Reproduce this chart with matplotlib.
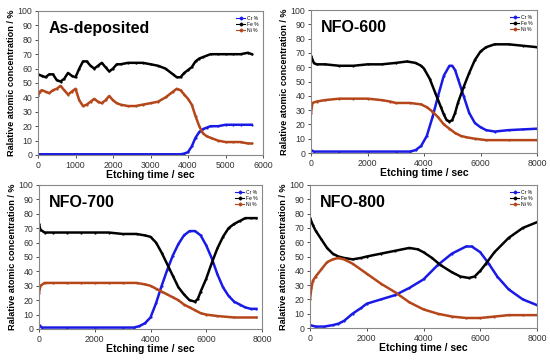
import matplotlib
matplotlib.use("Agg")
import matplotlib.pyplot as plt
from matplotlib.lines import Line2D

plt.rcParams['font.family'] = ['Liberation Sans', 'DejaVu Sans']

# ---------------- data ----------------
titles = ["As-deposited", "NFO-600", "NFO-700", "NFO-800"]
series_names = ["Cr %", "Fe %", "Ni %"]
xmax = [6000, 8000, 8000, 8000]
xticks_list = [[0, 1000, 2000, 3000, 4000, 5000, 6000],
               [0, 2000, 4000, 6000, 8000],
               [0, 2000, 4000, 6000, 8000],
               [0, 2000, 4000, 6000, 8000]]

# As-deposited
t1_fe = [0, 100, 200, 300, 400, 500, 600, 700, 800, 900, 1000, 1100, 1200, 1300, 1400, 1500, 1600, 1700, 1800, 1900,
         2000, 2100, 2200, 2400, 2600, 2800, 3000, 3200, 3400, 3600, 3700, 3800, 3900, 4000, 4100, 4200, 4300, 4400,
         4600, 4800, 5000, 5200, 5400, 5600, 5700]
fe1 = [56, 55, 54, 56, 56, 52, 51, 53, 57, 55, 54, 60, 65, 65, 62, 60, 62, 64, 61, 58,
       60, 63, 63, 64, 64, 64, 63, 62, 60, 56, 54, 54, 57, 59, 61, 65, 67, 68,
       70, 70, 70, 70, 70, 71, 70]
t1_ni = [0, 50, 100, 200, 300, 400, 500, 600, 700, 800, 900, 1000, 1100, 1200, 1300, 1400, 1500, 1600, 1700, 1800,
         1900, 2000, 2100, 2200, 2400, 2600, 2800, 3000, 3200, 3400, 3600, 3700, 3800, 3900, 4000, 4100, 4200, 4300,
         4400, 4500, 4600, 4800, 5000, 5200, 5400, 5600, 5700]
ni1 = [41, 44, 45, 44, 43, 45, 46, 48, 45, 42, 44, 46, 38, 34, 35, 37, 39, 37, 36, 38,
       41, 38, 36, 35, 34, 34, 35, 36, 37, 40, 44, 46, 45, 42, 39, 35, 27, 20,
       15, 13, 12, 10, 9, 9, 9, 8, 8]
t1_cr = [0, 1000, 2000, 3000, 3800, 3900, 4000, 4100, 4200, 4300, 4400, 4500, 4600, 4800, 5000, 5200, 5400, 5700]
cr1 = [0.5, 0.5, 0.5, 0.5, 0.5, 1, 2, 6, 12, 16, 18, 19, 20, 20, 21, 21, 21, 21]

# NFO-600
t2_fe = [0, 100, 200, 500, 1000, 1500, 2000, 2500, 3000, 3400, 3700, 3900, 4000, 4200, 4400, 4600, 4700, 4800, 4900,
         5000, 5100, 5200, 5400, 5600, 5800, 6000, 6200, 6500, 7000, 7500, 8000]
fe2 = [68, 63, 62, 62, 61, 61, 62, 62, 63, 64, 63, 61, 59, 52, 42, 32, 27, 23, 22,
       23, 28, 35, 46, 56, 65, 71, 74, 76, 76, 75, 74]
t2_cr = [0, 100, 1000, 2000, 3000, 3500, 3700, 3900, 4100, 4300, 4500, 4700, 4900, 5000, 5100, 5200, 5400, 5600,
         5800, 6000, 6200, 6500, 7000, 7500, 8000]
cr2 = [2, 1, 1, 1, 1, 1, 2, 5, 12, 25, 40, 54, 61, 61, 58, 52, 40, 28,
       21, 18, 16, 15, 16, 16.5, 17]
t2_ni = [0, 50, 200, 500, 1000, 1500, 2000, 2500, 2800, 3000, 3500, 3900, 4100, 4300, 4500, 4700, 4900, 5100, 5300,
         5500, 5800, 6200, 7000, 8000]
ni2 = [28, 35, 36, 37, 38, 38, 38, 37, 36, 35, 35, 34, 32, 29, 25, 20, 17, 14, 12,
       11, 10, 9, 9, 9]

# NFO-700
t3_fe = [0, 50, 200, 500, 1000, 1500, 2000, 2500, 3000, 3500, 3800, 4000, 4200, 4400, 4600, 4800, 5000, 5200, 5400,
         5600, 5700, 5800, 6000, 6200, 6400, 6600, 6800, 7000, 7200, 7400, 7600, 7800]
fe3 = [73, 69, 67, 67, 67, 67, 67, 67, 66, 66, 65, 64, 60, 53, 45, 37, 29, 24, 20,
       19, 21, 26, 35, 46, 56, 64, 70, 73, 75, 77, 77, 77]
t3_cr = [0, 100, 1000, 2000, 3000, 3400, 3600, 3800, 4000, 4200, 4400, 4600, 4800, 5000, 5200, 5400, 5600, 5800,
         6000, 6200, 6400, 6600, 6800, 7000, 7200, 7400, 7600, 7800]
cr3 = [3, 1, 1, 1, 1, 1, 2, 4, 8, 18, 30, 41, 51, 59, 65, 68, 68, 65,
       58, 49, 38, 29, 23, 19, 17, 15, 14, 14]
t3_ni = [0, 50, 200, 500, 1000, 1500, 2000, 2500, 3000, 3500, 3800, 4000, 4200, 4400, 4600, 4800, 5000, 5200, 5400,
         5600, 5800, 6000, 6400, 7000, 7800]
ni3 = [25, 30, 32, 32, 32, 32, 32, 32, 32, 32, 31, 30, 28, 26, 24, 22, 20, 17, 15,
       13, 11, 10, 9, 8, 8]

# NFO-800
t4_fe = [0, 100, 200, 400, 600, 800, 1000, 1200, 1500, 1800, 2000, 2500, 3000, 3500, 3800, 4000, 4300, 4600, 5000,
         5300, 5600, 5800, 6000, 6200, 6500, 7000, 7500, 8000]
fe4 = [77, 72, 68, 62, 56, 52, 50, 49, 48, 49, 50, 52, 54, 56, 55, 53, 49, 44, 39,
       36, 35, 36, 40, 45, 53, 63, 70, 74]
t4_cr = [0, 200, 500, 800, 1000, 1200, 1500, 1800, 2000, 2500, 3000, 3500, 4000, 4500, 5000, 5500, 5700, 6000,
         6300, 6600, 7000, 7500, 8000]
cr4 = [2, 1, 1, 2, 3, 5, 10, 14, 17, 20, 23, 28, 34, 44, 52, 57, 57, 53,
       45, 36, 27, 20, 16]
t4_ni = [0, 50, 100, 200, 400, 600, 800, 1000, 1200, 1500, 2000, 2500, 3000, 3500, 4000, 4500, 5000, 5500, 6000,
         6500, 7000, 7500, 8000]
ni4 = [20, 28, 33, 36, 41, 46, 48, 49, 48, 45, 38, 31, 25, 18, 13, 10, 8, 7, 7,
       8, 9, 9, 9]

panels = [
    ((t1_cr, cr1), (t1_fe, fe1), (t1_ni, ni1)),
    ((t2_cr, cr2), (t2_fe, fe2), (t2_ni, ni2)),
    ((t3_cr, cr3), (t3_fe, fe3), (t3_ni, ni3)),
    ((t4_cr, cr4), (t4_fe, fe4), (t4_ni, ni4)),
]

colors = ["#1a1ae6", "#000000", "#b5461a"]

# ---------------- layout ----------------
W, H = 550, 360
boxes = [(38, 263, 11, 155), (311, 537, 10, 153), (39, 262, 185, 329), (310, 537, 185, 328)]

fig = plt.figure(figsize=(5.5, 3.6), dpi=100)
for i, (l, r, t, b) in enumerate(boxes):
    ax = fig.add_axes([l / W, 1 - b / H, (r - l) / W, (b - t) / H])
    for (xs, ys), c, name in zip(panels[i], colors, series_names):
        ax.plot(xs, ys, color=c, lw=1.8, marker='o', ms=1.6, mew=0, label=name)
    ax.set_xlim(0, xmax[i])
    ax.set_ylim(0, 100)
    ax.set_xticks(xticks_list[i])
    ax.set_yticks(range(0, 101, 10))
    ax.tick_params(labelsize=6.3, length=2.5, width=0.6, colors="#333333", pad=1.5)
    for s in ax.spines.values():
        s.set_color("#888888")
        s.set_linewidth(0.8)
    ax.set_xlabel("Etching time / sec", fontsize=7.5, fontweight="bold", labelpad=0.5)
    ax.set_ylabel("Ralative atomic concentration / %", fontsize=6.6, fontweight="bold", labelpad=1)
    ax.text(0.045, 0.93, titles[i], transform=ax.transAxes, fontsize=11.5, fontweight="bold",
            va="top", ha="left")
    handles = [Line2D([], [], color=c, lw=0.8, marker='D', ms=1.5) for c in colors]
    ax.legend(handles, series_names, loc="upper right", fontsize=3.6, frameon=False,
              handlelength=1.8, handletextpad=0.3, labelspacing=0.25, borderaxespad=0.5)

fig.savefig("out.png", dpi=100)
